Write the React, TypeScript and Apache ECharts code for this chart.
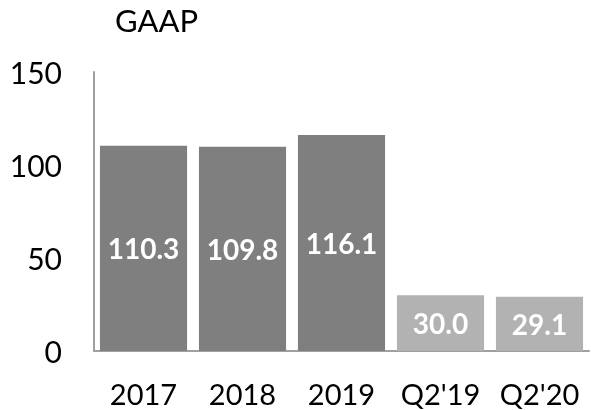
import React, { useEffect, useRef } from "react";
import * as echarts from "echarts";

const categories = ["2017", "2018", "2019", "Q2'19", "Q2'20"];
const values = [110.3, 109.8, 116.1, 30.0, 29.1];
const barColors = ["#7f7f7f", "#7f7f7f", "#7f7f7f", "#b2b2b2", "#b2b2b2"];
const yTicks = [0, 50, 100, 150];
const title = "GAAP";

export default function App() {
  const ref = useRef<HTMLDivElement>(null);
  useEffect(() => {
    if (!ref.current) return;
    const chart = echarts.init(ref.current, undefined, { renderer: "svg" });
    const font = "Lato, 'Open Sans', sans-serif";
    chart.setOption({
      animation: false,
      title: {
        text: title,
        left: 110,
        top: 0,
        padding: [4, 5, 5, 5],
        textStyle: { fontFamily: font, fontSize: 31, fontWeight: "normal", color: "#000" },
      },
      grid: { left: 94, right: 2, top: 72, bottom: 59, containLabel: false },
      xAxis: {
        type: "category",
        data: categories,
        axisLine: { show: true, lineStyle: { color: "#a0a0a0", width: 2 } },
        axisTick: { show: false },
        axisLabel: {
          color: "#000",
          fontFamily: font,
          fontSize: 29,
          lineHeight: 22,
          margin: 31,
          interval: 0,
        },
      },
      yAxis: {
        type: "value",
        min: yTicks[0],
        max: yTicks[yTicks.length - 1],
        interval: 50,
        axisLine: { show: true, lineStyle: { color: "#a0a0a0", width: 2 } },
        axisTick: { show: false },
        splitLine: { show: false },
        axisLabel: {
          color: "#000",
          fontFamily: font,
          fontSize: 30,
          margin: 32,
          padding: [0, 0, 6, 0],
        },
      },
      series: [
        {
          type: "bar",
          data: values.map((v, i) => ({ value: v, itemStyle: { color: barColors[i] } })),
          barCategoryGap: "12%",
          label: {
            show: true,
            position: "inside",
            color: "#fff",
            fontFamily: font,
            fontWeight: "bold",
            fontSize: 28,
            formatter: (p: any) => p.value.toFixed(1),
          },
        },
      ],
    });
    return () => chart.dispose();
  }, []);
  return (
    <div
      ref={ref}
      style={{ position: "fixed", left: 0, top: 0, width: 591, height: 410, margin: 0 }}
    />
  );
}
